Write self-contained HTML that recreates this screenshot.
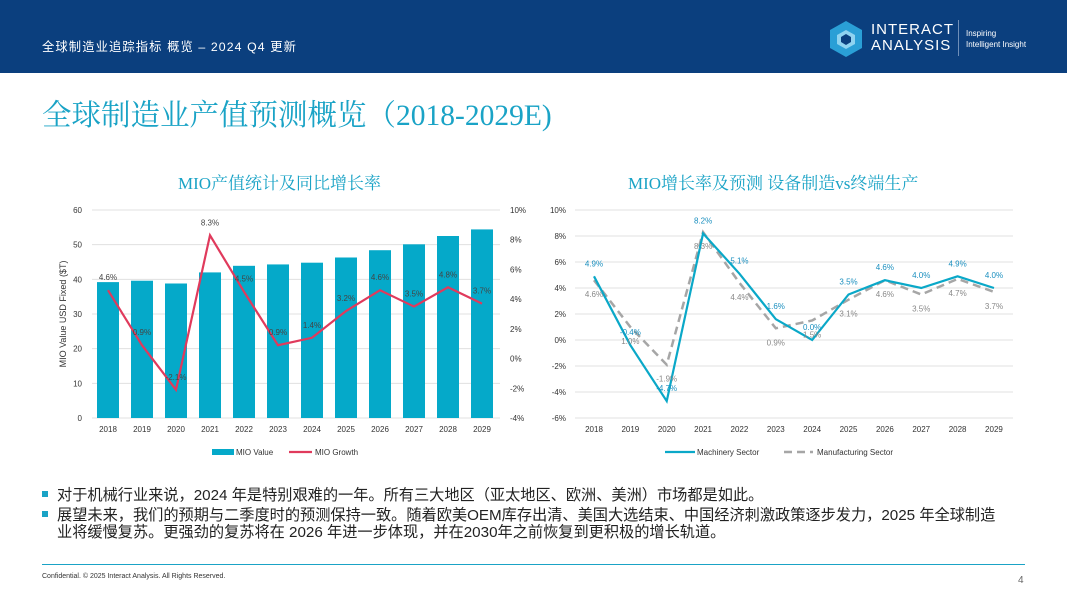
<!DOCTYPE html>
<html><head><meta charset="utf-8"><style>
body{margin:0;width:1067px;height:600px;overflow:hidden;background:#fff;font-family:"Liberation Sans","Noto Sans CJK SC",sans-serif;position:relative}
.hdr{position:absolute;left:0;top:0;width:1067px;height:73px;background:#0b3f7e}
.abs{position:absolute;white-space:nowrap}
</style></head><body>
<div class="hdr"></div>
<div class="abs" style="left:42px;top:37px;color:#fff;font-size:12.3px;letter-spacing:1.1px">全球制造业追踪指标 概览 – 2024 Q4 更新</div>
<svg class="abs" style="left:828px;top:20px" width="36" height="38"><polygon points="18,1 34,10 34,28 18,37 2,28 2,10" fill="#2a9fd6"/><polygon points="18,10 27,15 27,24 18,29 9,24 9,15" fill="#8fd3f0"/><polygon points="18,14 23,17 23,22 18,25 13,22 13,17" fill="#0b3f7e"/></svg>
<div class="abs" style="left:871px;top:22px;color:#fff;font-size:15px;line-height:16px;letter-spacing:1px">INTERACT<br>ANALYSIS</div>
<div class="abs" style="left:958px;top:20px;width:1px;height:36px;background:#6f8fb8"></div>
<div class="abs" style="left:966px;top:28px;color:#fff;font-size:8px;line-height:11px">Inspiring<br>Intelligent Insight</div>
<div class="abs" style="left:42px;top:92px;color:#1aa3c6;font-size:29.5px;font-family:'Liberation Serif','Noto Serif CJK SC',serif">全球制造业产值预测概览（2018-2029E)</div>
<div class="abs" style="left:178px;top:169px;color:#1aa3c6;font-size:17px;font-family:'Liberation Serif','Noto Serif CJK SC',serif">MIO产值统计及同比增长率</div>
<div class="abs" style="left:628px;top:169px;color:#1aa3c6;font-size:17px;font-family:'Liberation Serif','Noto Serif CJK SC',serif">MIO增长率及预测 设备制造vs终端生产</div>
<svg id="c" class="abs" style="left:0;top:0" width="1067" height="600" font-family="Liberation Sans, sans-serif"></svg>
<div class="abs" style="left:42px;top:483px;font-size:15.2px;color:#222"><span style="display:inline-block;width:6px;height:6px;background:#1aa3c6;margin-right:9px;vertical-align:3px"></span>对于机械行业来说，2024 年是特别艰难的一年。所有三大地区（亚太地区、欧洲、美洲）市场都是如此。</div>
<div class="abs" style="left:42px;top:507px;font-size:15.2px;color:#222;line-height:17px"><span style="display:inline-block;width:6px;height:6px;background:#1aa3c6;margin-right:9px;vertical-align:3px"></span>展望未来，我们的预期与二季度时的预测保持一致。随着欧美OEM库存出清、美国大选结束、中国经济刺激政策逐步发力，2025 年全球制造<br><span style="padding-left:15px">业将缓慢复苏。更强劲的复苏将在 2026 年进一步体现，并在2030年之前恢复到更积极的增长轨道。</span></div>
<div class="abs" style="left:42px;top:564px;width:983px;height:1px;background:#1aa3c6"></div>
<div class="abs" style="left:42px;top:573px;font-size:7px;color:#333">Confidential. © 2025 Interact Analysis. All Rights Reserved.</div>
<div class="abs" style="left:1018px;top:575px;font-size:10px;color:#666">4</div>
<script>
const years=["2018","2019","2020","2021","2022","2023","2024","2025","2026","2027","2028","2029"];
const mioValue=[39.2,39.6,38.8,42.0,43.9,44.3,44.8,46.3,48.4,50.1,52.5,54.4];
const mioGrowth=[4.6,0.9,-2.1,8.3,4.5,0.9,1.4,3.2,4.6,3.5,4.8,3.7];
const machinery=[4.9,-0.4,-4.7,8.2,5.1,1.6,0.0,3.5,4.6,4.0,4.9,4.0];
const manufacturing=[4.6,1.0,-1.9,8.3,4.4,0.9,1.5,3.1,4.6,3.5,4.7,3.7];
const leftTicks=[0,10,20,30,40,50,60];
const rightTicks=[-4,-2,0,2,4,6,8,10];
const r2Ticks=[-6,-4,-2,0,2,4,6,8,10];
const svg=document.getElementById('c');const NS='http://www.w3.org/2000/svg';
function mk(t,a,txt){const e=document.createElementNS(NS,t);for(const k in a)e.setAttribute(k,a[k]);if(txt!=null)e.textContent=txt;svg.appendChild(e);return e;}
// left chart
const xL=i=>108+i*34, yV=v=>418-v/60*208, yG=p=>418-(p+4)/14*208;
leftTicks.forEach(v=>{let g=mk('line',{x1:92,x2:500,y1:yV(v),y2:yV(v),stroke:'#e0e0e0'});

let t=mk('text',{x:82,y:yV(v)+3,'font-size':8,'text-anchor':'end',fill:'#333'},v);
});
rightTicks.forEach(p=>{let t=mk('text',{x:510,y:yG(p)+3,'font-size':8,fill:'#333'},p+'%');
});
mioValue.forEach((v,i)=>{let b=mk('rect',{x:xL(i)-11,y:yV(v),width:22,height:418-yV(v),fill:'#05a9c9'});

let t=mk('text',{x:xL(i),y:432,'font-size':8,'text-anchor':'middle',fill:'#333'},years[i]);
});
let gl=mk('polyline',{points:mioGrowth.map((p,i)=>xL(i)+','+yG(p)).join(' '),fill:'none',stroke:'#e03a5c','stroke-width':2.2});

mioGrowth.forEach((p,i)=>{let t=mk('text',{x:xL(i),y:yG(p)-10,'font-size':8,'text-anchor':'middle',fill:'#444'},p.toFixed(1)+'%');
});
let yt=mk('text',{transform:'translate(66,314) rotate(-90)','font-size':9,'text-anchor':'middle',fill:'#333'},'MIO Value USD Fixed ($T)');

let l1=mk('rect',{x:212,y:449,width:22,height:6,fill:'#05a9c9'});
let l1t=mk('text',{x:236,y:455,'font-size':8,fill:'#333'},'MIO Value');
let l2=mk('line',{x1:289,x2:312,y1:452,y2:452,stroke:'#e03a5c','stroke-width':2.2});
let l2t=mk('text',{x:315,y:455,'font-size':8,fill:'#333'},'MIO Growth');
// right chart
const xR=i=>594+i*36.36, yR=p=>418-(p+6)/16*208;
r2Ticks.forEach(p=>{let g=mk('line',{x1:575,x2:1013,y1:yR(p),y2:yR(p),stroke:'#e0e0e0'});

let t=mk('text',{x:566,y:yR(p)+3,'font-size':8,'text-anchor':'end',fill:'#333'},p+'%');
});
years.forEach((y,i)=>{let t=mk('text',{x:xR(i),y:432,'font-size':8,'text-anchor':'middle',fill:'#333'},y);
});
let mf=mk('polyline',{points:manufacturing.map((p,i)=>xR(i)+','+yR(p)).join(' '),fill:'none',stroke:'#a6a6a6','stroke-width':2.5,'stroke-dasharray':'8,5'});

let mc=mk('polyline',{points:machinery.map((p,i)=>xR(i)+','+yR(p)).join(' '),fill:'none',stroke:'#0aa8c8','stroke-width':2.2});

manufacturing.forEach((p,i)=>{let t=mk('text',{x:xR(i),y:yR(p)+17,'font-size':8,'text-anchor':'middle',fill:'#888'},p.toFixed(1)+'%');
});
machinery.forEach((p,i)=>{let t=mk('text',{x:xR(i),y:yR(p)-10,'font-size':8,'text-anchor':'middle',fill:'#1a8fbf'},p.toFixed(1)+'%');
});
let l3=mk('line',{x1:665,x2:695,y1:452,y2:452,stroke:'#0aa8c8','stroke-width':2.2});
let l3t=mk('text',{x:697,y:455,'font-size':8,fill:'#333'},'Machinery Sector');
let l4=mk('line',{x1:784,x2:813,y1:452,y2:452,stroke:'#a6a6a6','stroke-width':2.5,'stroke-dasharray':'8,5'});
let l4t=mk('text',{x:817,y:455,'font-size':8,fill:'#333'},'Manufacturing Sector');
</script>
</body></html>
